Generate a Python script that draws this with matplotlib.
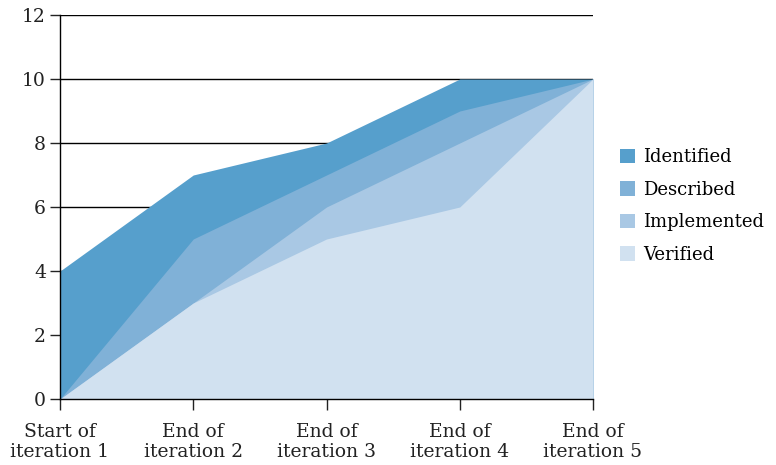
import matplotlib
matplotlib.use("Agg")
import matplotlib.pyplot as plt
from matplotlib.patches import Patch

# Values
stages = ["Start of\niteration 1", "End of\niteration 2", "End of\niteration 3",
          "End of\niteration 4", "End of\niteration 5"]
identified = [4, 7, 8, 10, 10]
described = [0, 5, 7, 9, 10]
implemented = [0, 3, 6, 8, 10]
verified = [0, 3, 5, 6, 10]

series = [
    ("Identified", identified, "#569fcc"),
    ("Described", described, "#80b1d7"),
    ("Implemented", implemented, "#a9c8e4"),
    ("Verified", verified, "#d1e1f0"),
]

plt.rcParams["font.family"] = ["DejaVu Serif"]
plt.rcParams["font.size"] = 13.5

fig = plt.figure(figsize=(7.76, 4.65), dpi=100)
ax = fig.add_axes([60 / 776, 1 - 399 / 465, (593 - 60) / 776, (399 - 15) / 465])

x = list(range(len(stages)))
for label, vals, color in series:
    ax.fill_between(x, 0, vals, color=color, linewidth=0, zorder=2)

ax.set_xlim(0, len(stages) - 1)
ax.set_ylim(0, 12)
ax.set_yticks(range(0, 13, 2))
ax.set_xticks(x)
ax.set_xticklabels(stages, color="#222222", linespacing=1.2)
ax.tick_params(axis="y", length=7, width=1, colors="#222222", pad=3)
ax.tick_params(axis="x", length=8, width=1, colors="#222222", pad=9)
ax.grid(axis="y", color="black", linewidth=1, zorder=1)
ax.set_axisbelow(True)
for side in ("top", "right"):
    ax.spines[side].set_visible(False)
for side in ("left", "bottom"):
    ax.spines[side].set_color("black")
    ax.spines[side].set_linewidth(1)
    ax.spines[side].set_zorder(3)

handles = [Patch(facecolor=c, label=l) for l, _, c in series]
fig.legend(handles=handles, loc="center left", bbox_to_anchor=(620 / 776, 1 - 206 / 465),
           frameon=False, borderpad=0, borderaxespad=0,
           handlelength=0.85, handleheight=0.85, handletextpad=0.45,
           labelspacing=0.8, fontsize=13)

fig.savefig("out.png", dpi=100)
